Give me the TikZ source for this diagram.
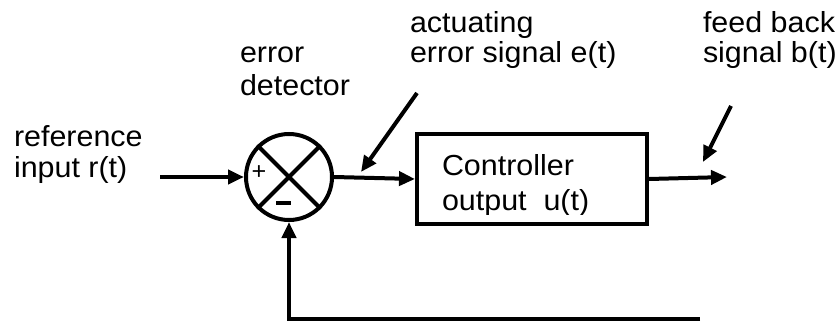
\documentclass[tikz,border=0pt]{standalone}
\usepackage{fontspec}
\setmainfont{Liberation Sans}[FakeStretch=1.05]
\usetikzlibrary{arrows.meta, positioning}

\begin{document}
\begin{tikzpicture}[x=1pt, y=-1pt, line width=4pt,
  sig/.style={-{Triangle[length=16pt,width=14pt]}},
  lbl/.style={font=\fontsize{29}{31}\selectfont, align=left, anchor=base west, inner sep=0pt}]
  \useasboundingbox (0,0) rectangle (835,324);
  % Error detector
  \node[circle, draw, minimum size=86pt, inner sep=0pt] (sum) at (289,177) {};
  \draw (sum.north west) -- (sum.south east) (sum.north east) -- (sum.south west);
  \node[font=\fontsize{24}{24}\selectfont, inner sep=0pt] (plus) at (259,173) {+};
  \draw[line width=4pt] (276,203) -- (291,203);
  % Controller block
  \node[draw, minimum width=230pt, minimum height=90pt] (ctrl) at (532,179) {};
  \begin{scope}
    \clip (ctrl.north west) rectangle ([yshift=12pt]ctrl.south east);
    \node[lbl, font=\fontsize{29}{35}\selectfont] (ctrltxt) at (440,210) {Controller\\output~ u(t)};
  \end{scope}
  % Signal path
  \coordinate (in) at (160,177);
  \coordinate (out) at (727,177);
  \coordinate (fbend) at (700,319);
  \draw[sig] (in) -- (sum.west);
  \draw[sig] (sum.east) -- (ctrl.west);
  \draw[sig] (ctrl.east) -- (out);
  \draw[sig] (fbend) -| (sum.south);
  % Labels
  \node[lbl] (reflbl) at (12,177) {reference\\input r(t)};
  \node[lbl, font=\fontsize{29}{33}\selectfont] (errlbl) at (238,95) {error\\detector};
  \node[lbl, font=\fontsize{29}{30}\selectfont] (actlbl) at (408,62) {actuating\\error signal e(t)};
  \node[lbl, font=\fontsize{29}{30}\selectfont] (fblbl) at (701,62) {feed back\\signal b(t)};
  % Pointers
  \coordinate (acttail) at (417,93);
  \coordinate (acthead) at (361,172);
  \coordinate (fbtail) at (731,106);
  \coordinate (fbhead) at (703,162);
  \draw[sig] (acttail) -- (acthead);
  \draw[sig] (fbtail) -- (fbhead);
\end{tikzpicture}
\end{document}
